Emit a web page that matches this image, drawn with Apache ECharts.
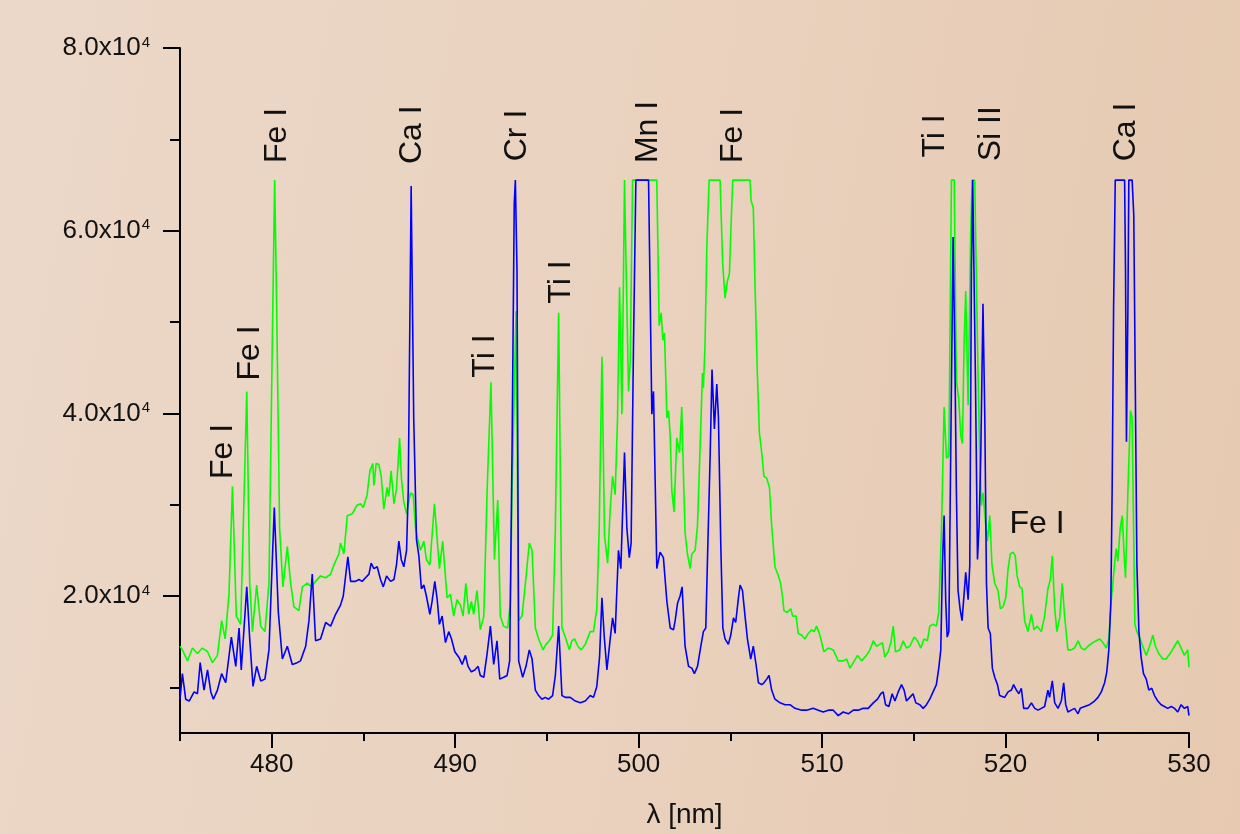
<!DOCTYPE html>
<html>
<head>
<meta charset="utf-8">
<style>
  html, body { margin: 0; padding: 0; }
  body { width: 1240px; height: 834px; background: linear-gradient(100deg, #ecd8c9 0%, #e9d1bd 55%, #e6c9b0 100%); }
  #main { width: 1240px; height: 834px; }
</style>
</head>
<body>
<div id="main"></div>
<script src="https://cdn.jsdelivr.net/npm/echarts@6.0.0/dist/echarts.min.js"></script>
<script>
// spectrum: [wavelength nm, counts]
var green = [
  [475.0,14500],[475.13,14100],[475.41,12900],[475.68,14300],[475.95,13700],[476.22,14300],[476.5,13900],[476.77,12700],
  [477.04,13500],[477.27,17300],[477.46,15300],[477.67,20200],[477.86,32000],[478.07,17800],[478.31,16900],[478.64,42400],
  [478.8,21400],[478.95,16100],[479.18,21200],[479.4,16700],[479.63,16100],[479.85,21400],[480.03,47600],[480.16,65535],
  [480.27,51600],[480.43,27400],[480.61,21000],[480.85,25400],[481.03,21400],[481.21,18800],[481.48,18400],[481.67,21000],
  [481.94,21400],[482.17,21000],[482.39,21600],[482.66,22200],[482.94,22000],[483.21,22400],[483.39,23400],[483.66,24600],
  [483.75,25800],[483.93,24600],[484.12,28800],[484.39,29000],[484.63,29900],[484.84,30100],[484.99,29700],[485.2,31100],
  [485.35,33700],[485.51,34500],[485.57,32100],[485.69,34500],[485.84,34400],[485.97,33100],[486.11,29500],[486.29,31900],
  [486.38,30900],[486.51,33700],[486.66,30100],[486.8,31700],[486.97,37300],[487.07,32900],[487.2,30300],[487.35,29000],
  [487.56,31300],[487.71,31100],[487.84,27400],[487.96,26200],[488.11,25000],[488.29,26000],[488.43,24000],[488.62,23400],
  [488.87,30100],[489.14,23000],[489.32,26000],[489.56,19800],[489.74,20200],[489.92,17800],[490.1,19600],[490.29,19000],
  [490.43,17800],[490.58,21400],[490.74,18000],[490.88,19400],[491.01,18000],[491.19,20600],[491.37,16300],[491.56,17800],
  [491.74,31500],[491.95,43400],[492.14,24000],[492.32,30500],[492.46,17800],[492.64,16700],[492.86,16500],[493.01,19400],
  [493.1,31500],[493.32,51200],[493.46,17300],[493.64,17800],[493.79,20600],[494.04,25800],[494.19,25000],[494.37,16500],
  [494.55,15300],[494.79,14100],[494.95,14700],[495.13,15100],[495.31,15700],[495.46,27400],[495.64,51000],[495.82,16500],
  [496.04,15300],[496.22,14100],[496.36,15100],[496.51,15300],[496.69,14500],[496.87,14100],[497.09,14700],[497.36,16100],
  [497.54,16100],[497.72,18600],[497.85,27400],[498.0,46200],[498.14,26600],[498.31,23600],[498.45,29500],[498.58,33100],
  [498.72,31100],[498.85,39500],[498.96,53800],[499.09,39900],[499.23,65535],[499.32,55700],[499.45,42400],[499.54,45600],
  [499.67,65535],[500.99,65535],[501.12,49600],[501.23,51000],[501.32,48000],[501.41,48800],[501.54,39500],[501.63,40300],
  [501.72,37500],[501.81,31500],[501.93,29200],[502.08,37300],[502.23,35700],[502.35,40700],[502.44,33500],[502.53,27000],
  [502.66,24600],[502.81,23000],[502.9,24600],[503.08,25000],[503.21,27800],[503.35,36300],[503.48,44400],[503.53,42800],
  [503.62,47600],[503.71,57700],[503.84,65535],[504.44,65535],[504.58,56500],[504.71,52600],[504.84,54500],[504.95,55300],
  [505.02,59700],[505.13,65535],[506.07,65535],[506.13,63300],[506.25,62500],[506.35,53600],[506.47,44400],[506.58,37900],
  [506.71,35700],[506.83,33100],[506.98,32900],[507.13,31900],[507.25,27800],[507.43,23200],[507.62,22200],[507.74,21400],
  [507.85,19800],[507.92,18400],[508.1,18200],[508.29,18600],[508.4,17800],[508.58,17800],[508.7,15900],[508.89,15700],
  [509.07,15300],[509.25,15900],[509.43,16300],[509.57,16100],[509.7,16700],[509.88,15700],[510.1,13900],[510.34,14300],
  [510.61,14100],[510.88,12900],[511.15,12900],[511.34,13100],[511.52,12100],[511.7,12700],[511.93,13500],[512.15,12900],
  [512.42,13500],[512.61,14100],[512.79,15100],[512.97,14500],[513.15,14700],[513.29,14900],[513.42,13300],[513.6,13900],
  [513.75,14900],[513.88,16700],[514.0,13900],[514.24,14100],[514.42,15100],[514.6,14300],[514.78,14500],[515.02,15500],
  [515.2,15100],[515.38,14300],[515.56,15300],[515.74,15100],[515.87,16700],[516.05,16900],[516.23,16700],[516.36,18200],
  [516.51,27400],[516.65,40700],[516.78,35100],[516.91,35300],[517.05,65535],[517.2,65535],[517.32,43600],[517.45,41500],
  [517.56,37500],[517.65,36700],[517.74,47600],[517.83,53400],[517.96,40900],[518.1,59700],[518.18,65535],[518.32,65535],
  [518.47,47600],[518.59,35500],[518.68,29900],[518.77,31300],[518.9,28200],[519.01,26000],[519.14,28800],[519.26,23400],
  [519.41,21400],[519.59,20600],[519.72,18600],[519.86,18800],[520.01,19800],[520.14,23000],[520.26,24600],[520.41,24800],
  [520.53,24400],[520.63,22200],[520.77,21000],[520.9,20800],[521.04,17300],[521.22,16100],[521.41,18000],[521.55,16300],
  [521.73,16700],[521.95,16100],[522.13,17800],[522.31,20800],[522.44,21800],[522.55,24400],[522.68,18600],[522.8,16100],
  [522.95,17600],[523.09,21400],[523.22,17800],[523.4,14100],[523.58,14100],[523.76,14300],[523.95,15100],[524.13,14300],
  [524.31,14100],[524.49,14500],[524.76,14900],[524.94,15100],[525.13,15300],[525.31,14900],[525.49,14300],[525.63,15300],
  [525.76,19400],[525.94,23400],[526.03,25200],[526.12,23800],[526.25,27400],[526.36,28800],[526.47,24200],[526.54,22000],
  [526.67,31500],[526.81,40300],[526.9,39500],[526.98,27400],[527.05,16900],[527.16,16100],[527.3,15500],[527.48,14500],
  [527.67,13500],[527.85,14500],[528.03,15700],[528.17,14500],[528.35,13700],[528.57,13100],[528.75,13100],[528.97,13700],
  [529.21,14500],[529.39,15100],[529.57,14300],[529.75,13500],[529.93,14100],[530.0,12200]
];
var blue = [
  [475.0,8700],[475.13,11500],[475.31,8700],[475.5,8500],[475.77,9500],[475.95,9300],[476.1,12700],[476.31,9700],
  [476.5,11900],[476.68,9500],[476.82,8700],[477.04,9700],[477.27,11500],[477.49,10500],[477.8,15500],[478.04,12300],
  [478.22,16500],[478.34,11900],[478.64,21000],[478.8,15300],[478.98,10100],[479.18,12300],[479.4,10700],[479.63,10900],
  [479.85,14100],[480.14,29700],[480.36,18200],[480.58,13100],[480.85,14500],[481.12,12500],[481.39,12700],[481.57,12900],
  [481.85,14500],[482.03,17300],[482.21,22400],[482.39,15100],[482.66,15300],[482.94,17100],[483.21,16700],[483.48,18000],
  [483.75,19000],[483.9,20000],[484.15,24300],[484.3,21600],[484.57,21600],[484.75,21800],[484.93,21600],[485.11,22000],
  [485.3,22400],[485.42,23600],[485.57,23000],[485.75,23200],[485.93,21800],[486.08,21000],[486.26,22200],[486.48,21600],
  [486.66,21800],[486.8,23400],[486.93,26000],[487.06,24000],[487.2,23200],[487.35,25000],[487.44,31500],[487.6,64900],
  [487.74,39500],[487.89,26200],[488.02,24400],[488.16,20800],[488.29,21200],[488.43,20000],[488.62,18000],[488.74,19400],
  [488.89,21600],[489.02,19600],[489.14,16900],[489.29,17800],[489.47,14900],[489.65,16100],[489.8,15300],[489.98,13900],
  [490.2,13300],[490.38,12500],[490.56,13500],[490.7,12300],[490.88,11700],[491.07,11900],[491.25,12300],[491.37,11300],
  [491.56,11100],[491.74,13700],[491.92,16700],[492.1,12500],[492.28,15100],[492.43,10900],[492.64,11100],[492.83,11300],
  [492.97,12900],[493.1,36000],[493.22,63000],[493.28,65535],[493.37,55700],[493.46,12900],[493.68,11100],[493.86,12300],
  [494.04,14100],[494.19,13100],[494.37,9700],[494.55,9100],[494.73,8700],[494.91,8900],[495.09,8700],[495.31,9100],
  [495.46,11300],[495.64,16700],[495.82,9100],[496.0,8900],[496.27,8900],[496.55,8500],[496.82,8300],[497.09,8500],
  [497.36,9100],[497.54,8900],[497.72,10100],[497.87,13300],[498.0,19800],[498.12,15700],[498.27,11900],[498.45,15300],
  [498.58,17600],[498.72,15900],[498.9,25000],[499.03,23000],[499.23,35700],[499.36,27400],[499.49,24200],[499.59,25800],
  [499.72,47600],[499.85,65535],[500.54,65535],[500.72,39900],[500.81,42400],[500.99,23000],[501.17,24800],[501.35,24200],
  [501.54,19400],[501.72,16500],[501.9,16300],[501.99,17300],[502.12,19200],[502.26,20000],[502.37,21000],[502.53,14500],
  [502.72,12300],[502.9,12100],[503.04,11500],[503.21,12300],[503.39,14500],[503.53,16100],[503.66,16500],[503.77,25400],
  [503.9,35500],[504.0,44800],[504.13,38300],[504.26,43200],[504.35,39500],[504.48,25400],[504.59,16500],[504.71,15300],
  [504.89,14700],[505.02,15700],[505.17,17600],[505.29,17100],[505.44,19800],[505.53,21200],[505.66,20600],[505.8,17800],
  [505.93,15300],[506.11,13100],[506.25,14500],[506.4,12500],[506.53,10500],[506.71,10300],[506.83,10500],[506.98,10900],
  [507.11,11300],[507.25,9700],[507.43,8700],[507.71,8300],[507.98,8100],[508.25,8100],[508.52,7700],[508.89,7500],
  [509.16,7500],[509.52,7700],[509.79,7500],[510.06,7300],[510.34,7500],[510.61,7500],[510.88,6900],[511.15,7300],
  [511.43,7100],[511.7,7500],[511.97,7500],[512.24,7700],[512.51,7700],[512.79,8300],[513.02,8700],[513.2,9300],
  [513.33,9500],[513.46,8100],[513.64,7900],[513.82,9300],[513.97,8500],[514.15,9500],[514.33,10300],[514.47,9700],
  [514.6,8500],[514.78,8900],[514.96,9300],[515.11,8300],[515.33,8100],[515.51,7700],[515.69,8100],[515.87,8700],
  [516.05,9500],[516.23,10300],[516.36,12100],[516.47,14100],[516.56,23400],[516.65,28800],[516.74,19400],[516.82,15500],
  [516.91,16100],[517.01,35500],[517.14,59300],[517.23,47600],[517.32,31500],[517.41,20600],[517.52,18600],[517.63,17300],
  [517.74,20200],[517.83,22600],[517.96,19600],[518.05,23400],[518.14,55700],[518.21,65535],[518.29,65535],[518.36,43600],
  [518.47,24000],[518.56,27800],[518.65,35500],[518.77,52000],[518.87,39500],[518.96,21400],[519.05,16500],[519.17,15900],
  [519.28,12100],[519.41,11100],[519.56,10300],[519.68,9100],[519.95,8900],[520.14,9500],[520.32,9700],[520.44,10300],
  [520.59,9700],[520.73,9300],[520.86,9900],[520.99,7700],[521.22,7700],[521.41,8300],[521.59,7700],[521.77,7500],
  [521.95,7700],[522.13,7900],[522.31,9700],[522.4,8900],[522.55,10700],[522.68,8300],[522.86,7700],[523.04,8500],
  [523.17,10500],[523.28,8100],[523.4,7300],[523.58,7500],[523.76,7700],[523.95,7100],[524.07,7700],[524.31,7900],
  [524.58,8100],[524.85,8500],[525.04,8900],[525.22,9500],[525.4,10500],[525.52,11700],[525.63,14100],[525.74,19400],
  [525.81,31500],[525.89,51600],[525.98,65535],[526.49,65535],[526.54,55700],[526.59,36900],[526.67,51600],[526.72,65535],
  [526.9,65535],[526.99,61700],[527.07,43600],[527.16,23400],[527.27,16100],[527.39,13300],[527.52,11500],[527.67,10900],
  [527.81,9700],[527.97,9900],[528.12,9100],[528.3,8500],[528.48,8100],[528.66,7900],[528.84,7700],[529.03,7900],
  [529.21,7700],[529.39,7300],[529.57,8100],[529.75,7700],[529.93,7900],[530.0,6900]
];

var xMajor = [480, 490, 500, 510, 520, 530];
var xMinor = [475, 485, 495, 505, 515, 525];
var yMajor = [20000, 40000, 60000, 80000];
var yMinor = [10000, 30000, 50000, 70000];

// line identifications: text, wavelength, height of the text foot, vertical?
var lineNames = ['Fe I', 'Fe I', 'Fe I', 'Ca I', 'Ti I', 'Cr I', 'Ti I', 'Mn I', 'Fe I', 'Ti I', 'Si II', 'Ca I', 'Fe I'];
var lineWl    = [477.33, 478.8, 480.32, 487.63, 491.65, 493.36, 495.79, 500.52, 505.15, 516.14, 519.19, 526.59, 520.21];
var lineAt    = [32800, 43600, 67400, 67300, 43900, 67600, 52000, 67400, 67400, 68000, 67600, 67600, 27900];
var lineUp    = [1, 1, 1, 1, 1, 1, 1, 1, 1, 1, 1, 1, 0];

var font = 'Liberation Sans, Arial, sans-serif';
var myChart = echarts.init(document.getElementById('main'));

var option = {
  animation: false,
  backgroundColor: 'transparent',
  grid: { left: 180, right: 51, top: 48, bottom: 100 },
  xAxis: [{
    type: 'value', min: 475, max: 530,
    name: 'λ [nm]', nameLocation: 'middle', nameGap: 68,
    nameTextStyle: { fontSize: 28, color: '#111', fontFamily: font },
    axisLine: { lineStyle: { color: '#000', width: 2 } },
    axisTick: { customValues: xMajor, length: 15, lineStyle: { color: '#000', width: 2 } },
    axisLabel: { customValues: xMajor, margin: 19, fontSize: 26, color: '#111', fontFamily: font },
    splitLine: { show: false }
  }, {
    type: 'value', min: 475, max: 530, position: 'bottom',
    axisLine: { show: false },
    axisTick: { customValues: xMinor, length: 8, lineStyle: { color: '#000', width: 2 } },
    axisLabel: { show: false },
    splitLine: { show: false }
  }],
  yAxis: [{
    type: 'value', min: 5000, max: 80000,
    axisLine: { show: true, lineStyle: { color: '#000', width: 2 } },
    axisTick: { show: true, customValues: yMajor, length: 17, lineStyle: { color: '#000', width: 2 } },
    axisLabel: {
      customValues: yMajor, margin: 30, color: '#111',
      formatter: function (v) { return '{b|' + (v / 10000).toFixed(1) + 'x10}{s|4}'; },
      rich: {
        b: { fontSize: 26, fontFamily: font, color: '#111' },
        s: { fontSize: 15, fontFamily: font, color: '#111', verticalAlign: 'top', padding: [0, 0, 0, 1] }
      }
    },
    splitLine: { show: false }
  }, {
    type: 'value', min: 5000, max: 80000, position: 'left',
    axisLine: { show: false },
    axisTick: { show: true, customValues: yMinor, length: 10, lineStyle: { color: '#000', width: 2 } },
    axisLabel: { show: false },
    splitLine: { show: false }
  }],
  series: [{
    name: 'green', type: 'line', data: green, showSymbol: false,
    lineStyle: { color: '#00ff00', width: 1.6 }, z: 2
  }, {
    name: 'blue', type: 'line', data: blue, showSymbol: false,
    lineStyle: { color: '#0000ff', width: 1.6 }, z: 3
  }]
};
myChart.setOption(option);

// put the element labels at their data positions
var texts = [];
for (var i = 0; i < lineNames.length; i++) {
  var p = myChart.convertToPixel({ gridIndex: 0 }, [lineWl[i], lineAt[i]]);
  texts.push({
    type: 'text', x: p[0], y: p[1], z: 10,
    rotation: lineUp[i] ? Math.PI / 2 : 0,
    style: { text: lineNames[i], fontSize: 32, fontFamily: font, fill: '#111', align: 'left', verticalAlign: 'middle' }
  });
}
myChart.setOption({ graphic: texts });
</script>
</body>
</html>
